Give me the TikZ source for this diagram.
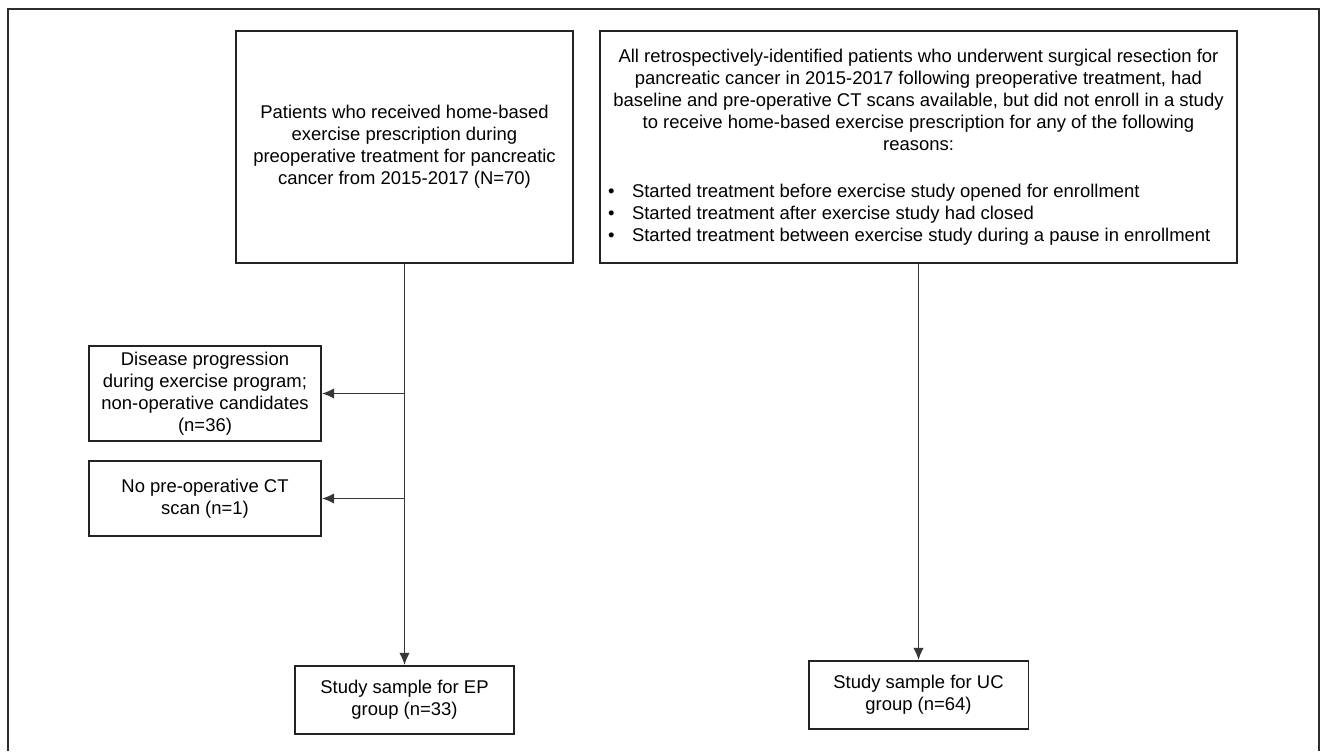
\documentclass[tikz,border=0pt]{standalone}
\usepackage{fontspec}
\setmainfont{Liberation Sans}
\usepackage{xcolor}
\usepackage{tikz}
\usetikzlibrary{
	arrows.meta,
	calc
}
\definecolor{BoxGray}{RGB}{35,35,35}
\definecolor{LineGray}{RGB}{55,55,55}
\definecolor{FrameGray}{RGB}{45,45,45}

\newcommand{\bitem}{\makebox[0.48cm][l]{\textbullet}}

\begin{document}
\begin{tikzpicture}[x=0.02cm, y=-0.02cm,
		flowbox/.style={draw=BoxGray, line width=1.1pt, inner sep=0pt, align=center,
			font=\fontsize{10.5}{12.5}\selectfont},
		flowline/.style={draw=LineGray, line width=0.8pt},
		flowarrow/.style={flowline, -{Latex[length=7pt, width=6pt]}}]
		\useasboundingbox (0,0) rectangle (1321,751);
		
		\draw[FrameGray, line width=1.1pt] (8,751) -- (8,9) -- (1319,9) -- (1319,751);
		
		\node[flowbox, minimum width=6.74cm, minimum height=4.64cm] (EPstart) at (404.5,147)
			{Patients who received home-based\\ exercise prescription during\\ preoperative treatment for pancreatic\\ cancer from 2015-2017 (N=70)};
		
		\node[flowbox, minimum width=12.74cm, minimum height=4.64cm] (UCstart) at (918.5,147)
			{All retrospectively-identified patients who underwent surgical resection for\\
			pancreatic cancer in 2015-2017 following preoperative treatment, had\\
			baseline and pre-operative CT scans available, but did not enroll in a study\\
			to receive home-based exercise prescription for any of the following\\
			reasons:\\[18pt]
			\parbox{12.42cm}{\raggedright
				\bitem Started treatment before exercise study opened for enrollment\\
				\bitem Started treatment after exercise study had closed\\
				\bitem Started treatment between exercise study during a pause in enrollment}};
		
		\node[flowbox, minimum width=4.64cm, minimum height=1.9cm] (EPprog) at (205,393.5)
			{Disease progression\\ during exercise program;\\ non-operative candidates\\ (n=36)};
		\node[flowbox, minimum width=4.64cm, minimum height=1.5cm] (EPnoct) at (205,498.5)
			{No pre-operative CT\\ scan (n=1)};
		
		\node[flowbox, minimum width=4.38cm, minimum height=1.36cm] (EPsample) at (404.5,700)
			{Study sample for EP\\ group (n=33)};
		\node[flowbox, minimum width=4.4cm, minimum height=1.36cm] (UCsample) at (918.5,695)
			{Study sample for UC\\ group (n=64)};
		
		\coordinate (EPcut1) at (EPstart.south |- EPprog.east);
		\coordinate (EPcut2) at (EPstart.south |- EPnoct.east);
		
		\draw[flowarrow] (EPstart.south) -- (EPsample.north);
		\draw[flowarrow] (UCstart.south) -- (UCsample.north);
		\draw[flowarrow] (EPcut1) -- (EPprog.east);
		\draw[flowarrow] (EPcut2) -- (EPnoct.east);
	\end{tikzpicture}
\end{document}
